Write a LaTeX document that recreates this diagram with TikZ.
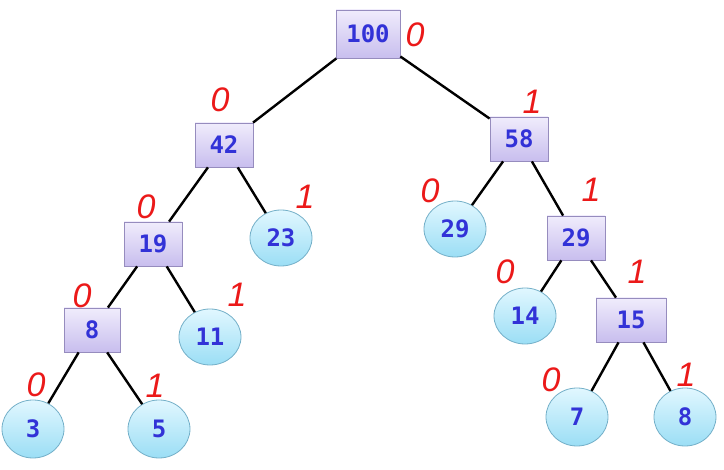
\documentclass[tikz,border=0pt]{standalone}
\usepackage{fontspec}
\usepackage{tikz}
\usetikzlibrary{shapes.geometric}
\newfontfamily\codefont{DejaVu Sans Mono}
\newfontfamily\handfont{Liberation Sans}
\definecolor{keyblue}{RGB}{50,50,215}
\definecolor{boxtop}{RGB}{240,236,252}
\definecolor{boxbot}{RGB}{200,190,238}
\definecolor{boxline}{RGB}{150,140,190}
\definecolor{leaftop}{RGB}{225,247,255}
\definecolor{leafbot}{RGB}{155,222,245}
\definecolor{leafline}{RGB}{115,175,200}
\definecolor{bitred}{RGB}{235,25,25}

\begin{document}
\begin{tikzpicture}[x=0.5pt, y=-0.5pt,
    every node/.style={font=\codefont\bfseries\fontsize{12}{14}\selectfont, text=keyblue},
    inner/.style={draw=boxline, top color=boxtop, bottom color=boxbot, minimum width=29pt, minimum height=22pt, inner sep=0pt},
    leaf/.style={ellipse, draw=leafline, top color=leaftop, bottom color=leafbot, minimum width=31pt, minimum height=28pt, inner sep=0pt},
    bit/.style={font=\handfont\itshape\fontsize{17}{17}\selectfont, text=bitred},
    edge/.style={line width=1.2pt}]
    \useasboundingbox (0,0) rectangle (724,470);
    % internal nodes
    \node[inner, minimum width=32pt, minimum height=24pt] (n100) at (368,34) {100};
    \node[inner] (n42) at (224,145) {42};
    \node[inner] (n58) at (519,139) {58};
    \node[inner] (n19) at (153,244) {19};
    \node[inner] (n29b) at (576,238) {29};
    \node[inner, minimum width=28pt] (n8b) at (92,330) {8};
    \node[inner, minimum width=35pt] (n15) at (631,320) {15};
    % leaves
    \node[leaf] (l23) at (281,238) {23};
    \node[leaf] (l29) at (455,229) {29};
    \node[leaf] (l11) at (210,337) {11};
    \node[leaf] (l14) at (525,316) {14};
    \node[leaf, minimum height=29pt] (l3) at (33,429) {3};
    \node[leaf, minimum height=29pt] (l5) at (159,429) {5};
    \node[leaf, minimum height=29pt] (l7) at (577,417) {7};
    \node[leaf, minimum height=29pt] (l8) at (685,417) {8};
    % edges
    \draw[edge] (n100) -- (n42);
    \draw[edge] (n100) -- (n58);
    \draw[edge] (n42) -- (n19);
    \draw[edge] (n42) -- (l23);
    \draw[edge] (n58) -- (l29);
    \draw[edge] (n58) -- (n29b);
    \draw[edge] (n19) -- (n8b);
    \draw[edge] (n19) -- (l11);
    \draw[edge] (n29b) -- (l14);
    \draw[edge] (n29b) -- (n15);
    \draw[edge] (n8b) -- (l3);
    \draw[edge] (n8b) -- (l5);
    \draw[edge] (n15) -- (l7);
    \draw[edge] (n15) -- (l8);
    % bit labels
    \node[bit] (b100) at (415,35) {0};
    \node[bit] (b42) at (220,100) {0};
    \node[bit] (b58) at (532,102) {1};
    \node[bit] (b19) at (146,207) {0};
    \node[bit] (b23) at (305,197) {1};
    \node[bit] (b29) at (430,191) {0};
    \node[bit] (b29b) at (591,190) {1};
    \node[bit] (b8b) at (82,296) {0};
    \node[bit] (b11) at (237,295) {1};
    \node[bit] (b14) at (505,272) {0};
    \node[bit] (b15) at (637,272) {1};
    \node[bit] (b3) at (36,385) {0};
    \node[bit] (b5) at (155,386) {1};
    \node[bit] (b7) at (551,380) {0};
    \node[bit] (b8) at (686,375) {1};
\end{tikzpicture}
\end{document}
